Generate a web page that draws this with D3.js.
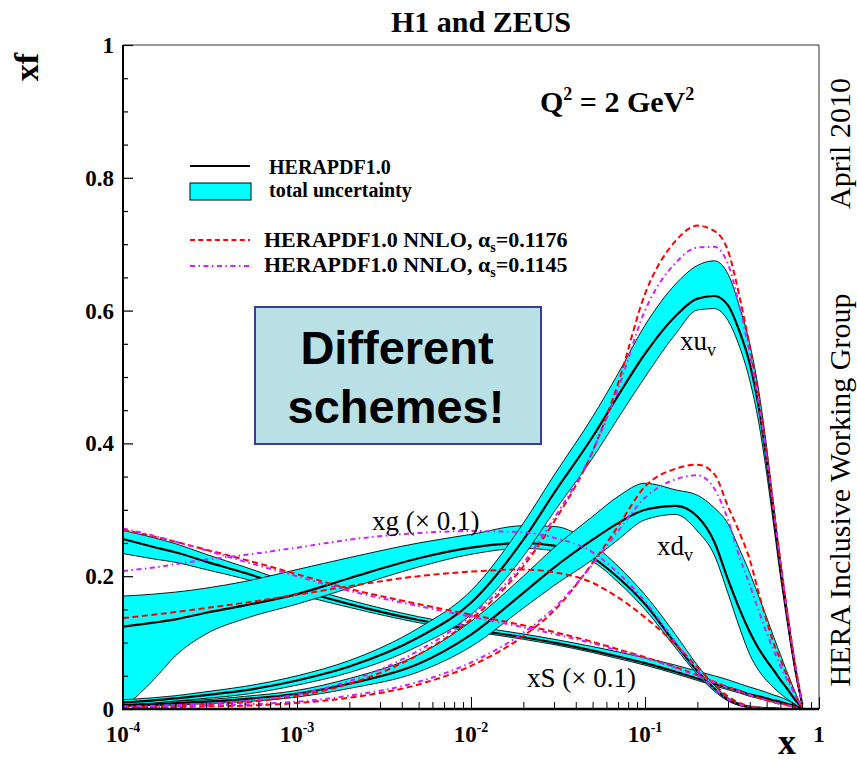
<!DOCTYPE html>
<html><head><meta charset="utf-8">
<script src="https://cdn.jsdelivr.net/npm/d3@7"></script>
<style>body{margin:0;background:#fff} svg{display:block}</style>
</head><body>
<svg id="c" width="857" height="764"></svg>
<script>
// ---------- DATA ----------
const X = [1e-4,1.5e-4,2e-4,3e-4,5e-4,1e-3,2e-3,5e-3,0.01,0.02,0.03,0.05,0.07,0.1,0.15,0.2,0.25,0.3,0.35,0.4,0.45,0.5,0.55,0.6,0.65,0.7,0.75,0.8];

const xuvC   = [0.010,0.013,0.016,0.021,0.028,0.043,0.064,0.108,0.160,0.255,0.325,0.410,0.472,0.535,0.592,0.618,0.622,0.608,0.568,0.520,0.455,0.375,0.290,0.213,0.148,0.090,0.044,0.008];
const xuvHi  = [0.014,0.017,0.020,0.026,0.034,0.050,0.073,0.122,0.178,0.280,0.352,0.440,0.505,0.578,0.640,0.668,0.675,0.655,0.605,0.550,0.480,0.395,0.305,0.225,0.157,0.096,0.047,0.009];
const xuvLo  = [0.007,0.009,0.012,0.016,0.022,0.036,0.055,0.095,0.142,0.230,0.297,0.378,0.438,0.500,0.565,0.601,0.603,0.585,0.545,0.495,0.432,0.355,0.275,0.200,0.138,0.084,0.040,0.007];
const xuvRed = [0.003,0.004,0.005,0.007,0.010,0.020,0.038,0.082,0.135,0.215,0.282,0.388,0.490,0.625,0.705,0.728,0.720,0.690,0.620,0.545,0.468,0.385,0.300,0.222,0.155,0.097,0.049,0.010];
const xuvMag = [0.004,0.005,0.006,0.008,0.012,0.022,0.042,0.088,0.140,0.220,0.287,0.388,0.482,0.600,0.672,0.695,0.696,0.670,0.605,0.535,0.460,0.380,0.297,0.220,0.153,0.096,0.048,0.009];

const xdvC   = [0.006,0.007,0.009,0.011,0.015,0.023,0.038,0.068,0.112,0.175,0.213,0.255,0.280,0.300,0.306,0.290,0.252,0.195,0.150,0.116,0.091,0.073,0.058,0.044,0.032,0.020,0.010,0.002];
const xdvHi  = [0.008,0.010,0.012,0.014,0.019,0.028,0.046,0.082,0.132,0.200,0.243,0.290,0.320,0.340,0.330,0.322,0.303,0.279,0.240,0.205,0.170,0.138,0.108,0.082,0.058,0.037,0.018,0.003];
const xdvLo  = [0.004,0.005,0.006,0.008,0.011,0.018,0.031,0.056,0.094,0.152,0.186,0.225,0.255,0.285,0.293,0.268,0.232,0.174,0.122,0.082,0.058,0.043,0.032,0.023,0.016,0.010,0.005,0.001];
const xdvRed = [0.002,0.002,0.003,0.004,0.005,0.009,0.017,0.037,0.065,0.110,0.148,0.220,0.275,0.335,0.362,0.368,0.354,0.305,0.265,0.225,0.175,0.133,0.098,0.075,0.052,0.033,0.016,0.002];
const xdvMag = [0.003,0.003,0.004,0.005,0.007,0.011,0.020,0.041,0.070,0.115,0.152,0.218,0.268,0.318,0.346,0.352,0.332,0.285,0.228,0.187,0.148,0.115,0.088,0.065,0.046,0.030,0.015,0.002];

const xgC   = [0.124,0.130,0.135,0.145,0.156,0.173,0.197,0.227,0.243,0.250,0.246,0.228,0.198,0.158,0.098,0.057,0.031,0.014,0.007,0.003,0.002,0.001,0.001,0,0,0,0,0];
const xgHi  = [0.170,0.173,0.176,0.182,0.192,0.210,0.228,0.250,0.263,0.276,0.275,0.248,0.215,0.172,0.112,0.066,0.036,0.017,0.008,0.004,0.002,0.001,0.001,0,0,0,0,0];
const xgLo  = [0.000,0.044,0.080,0.113,0.136,0.158,0.182,0.214,0.233,0.242,0.238,0.222,0.191,0.150,0.092,0.052,0.027,0.012,0.005,0.002,0.001,0.001,0,0,0,0,0,0];
const xgRed = [0.137,0.142,0.146,0.152,0.160,0.172,0.185,0.200,0.207,0.210,0.206,0.190,0.168,0.138,0.097,0.063,0.037,0.019,0.009,0.004,0.002,0.001,0,0,0,0,0,0];
const xgMag = [0.208,0.213,0.218,0.225,0.232,0.243,0.255,0.265,0.268,0.266,0.258,0.236,0.205,0.162,0.100,0.058,0.031,0.015,0.007,0.003,0.001,0,0,0,0,0,0,0];

const xsC   = [0.256,0.244,0.236,0.222,0.205,0.180,0.158,0.134,0.120,0.108,0.100,0.088,0.079,0.069,0.056,0.046,0.038,0.032,0.027,0.022,0.019,0.016,0.013,0.011,0.008,0.006,0.004,0.001];
const xsHi  = [0.269,0.258,0.249,0.233,0.214,0.187,0.164,0.139,0.125,0.113,0.105,0.094,0.086,0.077,0.066,0.057,0.050,0.044,0.038,0.033,0.029,0.025,0.021,0.018,0.014,0.010,0.006,0.002];
const xsLo  = [0.234,0.226,0.221,0.210,0.196,0.173,0.153,0.130,0.117,0.105,0.097,0.085,0.076,0.066,0.053,0.043,0.035,0.029,0.024,0.019,0.016,0.013,0.010,0.008,0.006,0.004,0.002,0.000];
const xsRed = [0.270,0.260,0.252,0.240,0.225,0.203,0.181,0.158,0.142,0.126,0.116,0.101,0.090,0.078,0.063,0.051,0.041,0.033,0.027,0.021,0.017,0.013,0.010,0.008,0.006,0.004,0.002,0.001];
const xsMag = [0.272,0.261,0.252,0.239,0.222,0.200,0.178,0.155,0.139,0.123,0.113,0.099,0.088,0.077,0.062,0.050,0.040,0.032,0.026,0.021,0.017,0.013,0.010,0.008,0.006,0.004,0.002,0.001];

const yTickLabels = ["0","0.2","0.4","0.6","0.8","1"];
const xTickDecades = [-4,-3,-2,-1,0];

// ---------- DRAW ----------
const W = 857, H = 764;
const svg = d3.select("#c");
const serif = "'Liberation Serif','Times New Roman',serif";
const sans = "'Liberation Sans',Arial,sans-serif";
const CYAN = "#00ffff", RED = "#ff0000", MAG = "#cc22ff";

const xs = d3.scaleLog().domain([1e-4, 1]).range([123, 819]);
const ys = d3.scaleLinear().domain([0, 1]).range([709, 45]);

svg.append("rect").attr("width", W).attr("height", H).attr("fill", "#fff");
svg.append("defs").append("clipPath").attr("id", "clip")
  .append("rect").attr("x", 123).attr("y", 45).attr("width", 696).attr("height", 664);
const plot = svg.append("g").attr("clip-path", "url(#clip)");

const lineGen = d3.line().x((d, i) => xs(X[i])).y(d => ys(d)).curve(d3.curveMonotoneX);
const areaGen = (lo, hi) => d3.area()
  .x((d, i) => xs(X[i])).y0((d, i) => ys(lo[i])).y1((d, i) => ys(hi[i]))
  .curve(d3.curveMonotoneX)(X);

const bands = [
  [xsLo, xsHi, xsC],
  [xgLo, xgHi, xgC],
  [xdvLo, xdvHi, xdvC],
  [xuvLo, xuvHi, xuvC]
];
bands.forEach(([lo, hi, c]) => {
  plot.append("path").attr("d", areaGen(lo, hi)).attr("fill", CYAN).attr("stroke", "none");
  [lo, hi].forEach(e => plot.append("path").attr("d", lineGen(e)).attr("fill", "none")
    .attr("stroke", "#000").attr("stroke-width", 0.9));
  plot.append("path").attr("d", lineGen(c)).attr("fill", "none")
    .attr("stroke", "#000").attr("stroke-width", 2.2);
});

const redDash = "6,3.5", magDash = "5,3.5,1.5,3.5";
[xsRed, xgRed, xdvRed, xuvRed].forEach(s => plot.append("path").attr("d", lineGen(s))
  .attr("fill", "none").attr("stroke", RED).attr("stroke-width", 2).attr("stroke-dasharray", redDash));
[xsMag, xgMag, xdvMag, xuvMag].forEach(s => plot.append("path").attr("d", lineGen(s))
  .attr("fill", "none").attr("stroke", MAG).attr("stroke-width", 2).attr("stroke-dasharray", magDash));

// frame
svg.append("line").attr("x1", 123).attr("x2", 819).attr("y1", 45).attr("y2", 45).attr("stroke", "#333").attr("stroke-width", 1);
svg.append("line").attr("x1", 819).attr("x2", 819).attr("y1", 45).attr("y2", 709).attr("stroke", "#333").attr("stroke-width", 1);

// x axis ticks
const xTickVals = [];
xTickDecades.slice(0, -1).forEach(d => { for (let k = 1; k <= 9; k++) xTickVals.push(k * Math.pow(10, d)); });
xTickVals.push(1);
const xAxisG = svg.append("g").attr("transform", "translate(0,709)")
  .call(d3.axisBottom(xs).tickValues(xTickVals).tickSize(-7).tickFormat(""));
xAxisG.select(".domain").remove();
xAxisG.selectAll(".tick line").attr("stroke", "#000").attr("stroke-width", 1)
  .attr("y2", d => { const l = Math.log10(d); return Math.abs(l - Math.round(l)) < 1e-9 ? -12 : -7; });

// y axis ticks
const yTickVals = d3.range(0, 21).map(i => i * 0.05);
const yAxisG = svg.append("g").attr("transform", "translate(123,0)")
  .call(d3.axisLeft(ys).tickValues(yTickVals).tickSize(-5).tickFormat(""));
yAxisG.select(".domain").remove();
yAxisG.selectAll(".tick line").attr("stroke", "#000").attr("stroke-width", 1.2)
  .attr("x2", (d, i) => i % 4 === 0 ? 10 : 5);

svg.append("line").attr("x1", 123).attr("x2", 123).attr("y1", 45).attr("y2", 710).attr("stroke", "#000").attr("stroke-width", 2);
svg.append("line").attr("x1", 122).attr("x2", 819).attr("y1", 709).attr("y2", 709).attr("stroke", "#000").attr("stroke-width", 2.5);

// y tick labels
yTickLabels.forEach(t => {
  svg.append("text").attr("x", 114).attr("y", ys(+t)).attr("dy", "0.35em")
    .attr("text-anchor", "end").attr("font-family", serif).attr("font-weight", "bold")
    .attr("font-size", 23).text(t);
});
// x tick labels
xTickDecades.forEach(d => {
  const t = svg.append("text").attr("x", xs(Math.pow(10, d))).attr("y", 742)
    .attr("text-anchor", "middle").attr("font-family", serif).attr("font-weight", "bold").attr("font-size", 23);
  if (d === 0) { t.text("1"); }
  else {
    t.append("tspan").text("10");
    t.append("tspan").attr("dy", -10).attr("font-size", 14).text(String(d));
  }
});

// axis titles
svg.append("text").attr("transform", "translate(38,67) rotate(-90)").attr("text-anchor", "middle")
  .attr("font-family", serif).attr("font-weight", "bold").attr("font-size", 34).text("xf");
svg.append("text").attr("x", 787).attr("y", 754).attr("text-anchor", "middle")
  .attr("font-family", serif).attr("font-weight", "bold").attr("font-size", 36).text("x");

// title
svg.append("text").attr("x", 481).attr("y", 32).attr("text-anchor", "middle")
  .attr("font-family", serif).attr("font-weight", "bold").attr("font-size", 30).text("H1 and ZEUS");

// right side
svg.append("text").attr("transform", "translate(850,143.5) rotate(-90)").attr("text-anchor", "middle")
  .attr("font-family", serif).attr("font-size", 30).text("April 2010");
svg.append("text").attr("transform", "translate(850,490) rotate(-90)").attr("text-anchor", "middle")
  .attr("font-family", serif).attr("font-size", 30).text("HERA Inclusive Working Group");

// Q2
const q = svg.append("text").attr("x", 540).attr("y", 112).attr("font-family", serif)
  .attr("font-weight", "bold").attr("font-size", 30);
q.append("tspan").text("Q");
q.append("tspan").attr("dy", -12).attr("font-size", 18).text("2");
q.append("tspan").attr("dy", 12).text(" = 2 GeV");
q.append("tspan").attr("dy", -12).attr("font-size", 18).text("2");

// legend
const lg = svg.append("g");
lg.append("line").attr("x1", 190).attr("x2", 250).attr("y1", 166).attr("y2", 166).attr("stroke", "#000").attr("stroke-width", 2);
lg.append("rect").attr("x", 190).attr("y", 183).attr("width", 61).attr("height", 17).attr("fill", CYAN).attr("stroke", "#000").attr("stroke-width", 1);
lg.append("line").attr("x1", 190).attr("x2", 250).attr("y1", 240).attr("y2", 240).attr("stroke", RED).attr("stroke-width", 2).attr("stroke-dasharray", "5,3.3");
lg.append("line").attr("x1", 190).attr("x2", 250).attr("y1", 266).attr("y2", 266).attr("stroke", MAG).attr("stroke-width", 2).attr("stroke-dasharray", magDash);
const lt = (x, y, fs) => lg.append("text").attr("x", x).attr("y", y).attr("font-family", serif)
  .attr("font-weight", "bold").attr("font-size", fs);
lt(269, 174, 20).text("HERAPDF1.0");
lt(269, 197, 20).text("total uncertainty");
[["0.1176", 247], ["0.1145", 272]].forEach(([a, y]) => {
  const t = lt(264, y, 22);
  t.append("tspan").text("HERAPDF1.0 NNLO, α");
  t.append("tspan").attr("dy", 5).attr("font-size", 14).text("s");
  t.append("tspan").attr("dy", -5).text("=" + a);
});

// curve labels
const cl = (x, y, main, sub) => {
  const t = svg.append("text").attr("x", x).attr("y", y).attr("font-family", serif).attr("font-size", 27);
  t.append("tspan").text(main);
  if (sub) t.append("tspan").attr("dy", 6).attr("font-size", 18).text(sub);
};
cl(680, 350, "xu", "v");
cl(657, 555, "xd", "v");
cl(372, 530, "xg (× 0.1)");
cl(527, 687, "xS (× 0.1)");

// annotation box
svg.append("rect").attr("x", 255).attr("y", 307).attr("width", 286).attr("height", 137)
  .attr("fill", "#b9e0e4").attr("stroke", "#3b3b9b").attr("stroke-width", 2);
svg.append("text").attr("x", 397).attr("y", 364).attr("text-anchor", "middle").attr("font-family", sans)
  .attr("font-weight", "bold").attr("font-size", 47).text("Different");
svg.append("text").attr("x", 396).attr("y", 423).attr("text-anchor", "middle").attr("font-family", sans)
  .attr("font-weight", "bold").attr("font-size", 47).text("schemes!");
</script>
</body></html>
